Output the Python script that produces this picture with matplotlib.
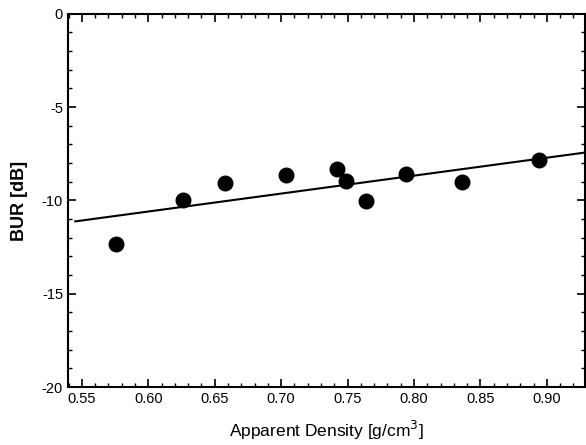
import matplotlib
matplotlib.use("Agg")
import matplotlib.pyplot as plt
from matplotlib.ticker import MultipleLocator

# measured points
density = [0.576, 0.626, 0.658, 0.704, 0.742, 0.749, 0.764, 0.794, 0.836, 0.894]
bur = [-12.33, -9.97, -9.07, -8.63, -8.33, -8.94, -10.04, -8.60, -8.99, -7.85]

# linear fit line endpoints
fit_x = [0.545, 0.928]
fit_y = [-11.12, -7.44]

plt.rcParams['font.family'] = ['Liberation Sans', 'DejaVu Sans']
plt.rcParams['axes.unicode_minus'] = False

fig = plt.figure(figsize=(5.86, 4.45), dpi=100)
ax = fig.add_axes([0.116, 0.13, 0.882, 0.839])

ax.plot(fit_x, fit_y, color='black', linewidth=1.5)
ax.scatter(density, bur, s=110, color='black', zorder=3)

ax.set_xlim(0.5395, 0.9286)
ax.set_ylim(-20, 0)
ax.xaxis.set_major_locator(MultipleLocator(0.05))
ax.xaxis.set_minor_locator(MultipleLocator(0.01))
ax.yaxis.set_major_locator(MultipleLocator(5))
ax.yaxis.set_minor_locator(MultipleLocator(1))
ax.xaxis.set_major_formatter(plt.FormatStrFormatter('%.2f'))
ax.tick_params(which='both', direction='in', top=True, right=True, labelsize=10.5)
ax.tick_params(which='major', length=6, width=1.2)
ax.tick_params(which='minor', length=3, width=1)
for s in ax.spines.values():
    s.set_linewidth(1.5)

ax.set_xlabel('Apparent Density [g/cm$^3$]', fontsize=12.5, labelpad=9)
ax.set_ylabel('BUR [dB]', fontsize=13, fontweight='bold', labelpad=10)

fig.savefig('out.png', dpi=100)
